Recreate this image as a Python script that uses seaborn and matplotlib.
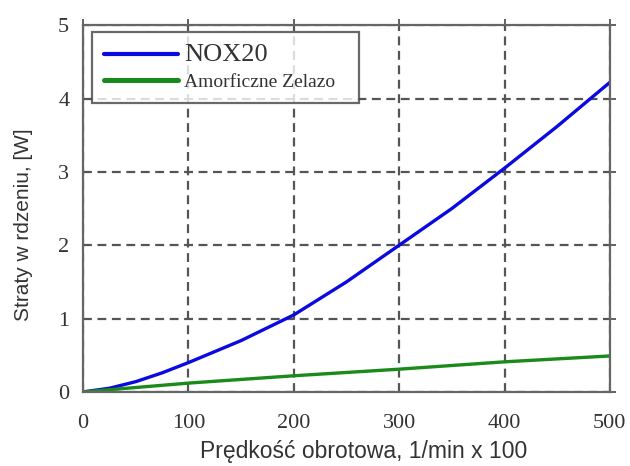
import matplotlib
matplotlib.use("Agg")
import matplotlib.pyplot as plt
import seaborn as sns
import pandas as pd
from matplotlib.lines import Line2D

speed_nox = [0, 25, 50, 75, 100, 150, 200, 250, 300, 350, 400, 450, 500]
loss_nox = [0.0, 0.05, 0.14, 0.26, 0.40, 0.70, 1.05, 1.50, 2.00, 2.50, 3.05, 3.62, 4.22]
speed_amf = [0, 25, 50, 100, 200, 300, 400, 500]
loss_amf = [0.0, 0.03, 0.06, 0.12, 0.22, 0.31, 0.41, 0.49]
series_names = ["NOX20", "Amorficzne Zelazo"]
x_ticks = [0, 100, 200, 300, 400, 500]
y_ticks = [0, 1, 2, 3, 4, 5]

df = pd.concat([
    pd.DataFrame({"x": speed_nox, "y": loss_nox, "s": series_names[0]}),
    pd.DataFrame({"x": speed_amf, "y": loss_amf, "s": series_names[1]}),
])

sns.set_style("white")
fig = plt.figure(figsize=(6.3, 4.66), dpi=100)
ax = fig.add_axes([0.132, 0.159, 0.836, 0.787])

blue = "#0a0ae0"
green = "#1a8a1a"
sns.lineplot(data=df, x="x", y="y", hue="s", palette=[blue, green],
             linewidth=2.4, ax=ax, legend=False)

ax.set_xlim(0, 500)
ax.set_ylim(0, 5)
ax.set_xticks(x_ticks)
ax.set_yticks(y_ticks)
ax.grid(True, color="#555555", linestyle=(0, (4, 2.5)), linewidth=1.6)
for sp in ax.spines.values():
    sp.set_color("#666666")
    sp.set_linewidth(1.6)
    sp.set_visible(True)
ax.tick_params(direction="inout", length=8, width=1.3, color="#555555",
               top=True, right=True, labeltop=False, labelright=False,
               labelsize=16, labelcolor="#333333")
ax.tick_params(axis="x", pad=12)
ax.tick_params(axis="y", pad=6)
for lab in ax.get_xticklabels() + ax.get_yticklabels():
    lab.set_family("Liberation Serif")

ax.set_xlabel("Prędkość obrotowa, 1/min x 100", fontsize=16.5, family="Liberation Sans",
              color="#333333")
ax.xaxis.set_label_coords(0.533, -0.13)
ax.set_ylabel("Straty w rdzeniu, [W]", fontsize=15, family="Liberation Sans",
              color="#333333")
ax.yaxis.set_label_coords(-0.095, 0.455)

handles = [Line2D([], [], color=blue, lw=3.0), Line2D([], [], color=green, lw=3.6)]
leg = ax.legend(handles, series_names, loc="upper left",
                bbox_to_anchor=(0.017, 0.981, 0.507, 0.0), mode="expand",
                borderaxespad=0, frameon=True, fancybox=False, shadow=False,
                borderpad=0.6, handlelength=3.8, labelspacing=0.4, handletextpad=0.35,
                prop={"family": "Liberation Serif", "size": 14})
leg.get_frame().set_edgecolor("#444444")
leg.get_frame().set_linewidth(1.6)
texts = leg.get_texts()
texts[0].set_fontsize(19)
texts[1].set_fontsize(14)
for t in texts:
    t.set_color("#333333")

fig.savefig("out.png", dpi=100)
